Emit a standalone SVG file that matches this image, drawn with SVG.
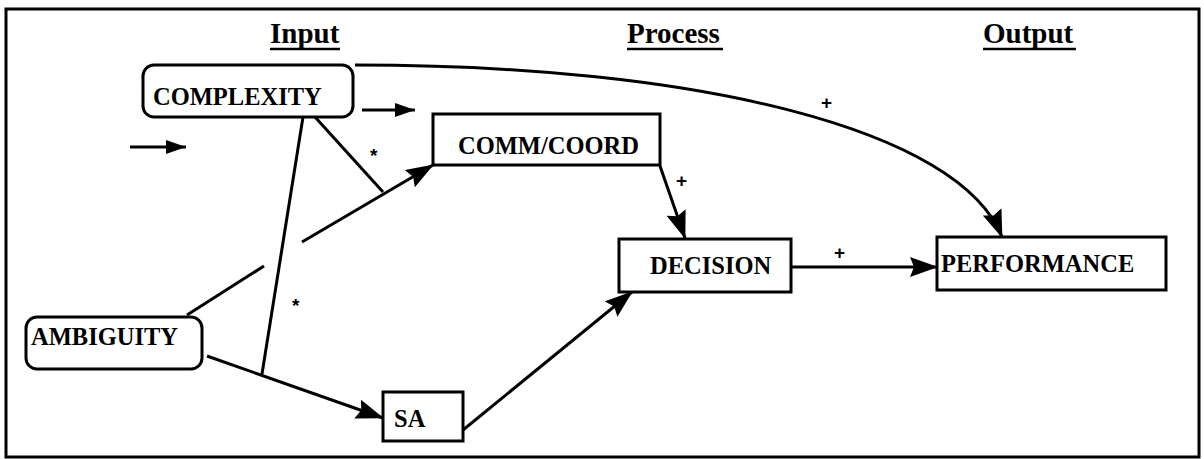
<svg xmlns="http://www.w3.org/2000/svg" width="1204" height="459" viewBox="0 0 1204 459">
<style>
text{font-family:"Liberation Serif","Times New Roman",serif;font-weight:bold;fill:#000}
.title{font-size:29px}
.lbl{font-size:24.5px}
.sym{font-family:"Liberation Sans",Arial,sans-serif;font-size:19px}
.box{fill:#fff;stroke:#000;stroke-width:3}
.ln{fill:none;stroke:#000;stroke-width:3}
.ul{stroke:#000;stroke-width:2.5}
</style>
<defs>
<marker id="ah" markerUnits="userSpaceOnUse" markerWidth="28" markerHeight="20" refX="27" refY="10" orient="auto"><path d="M0,0 L28,10 L0,20 L4,10 z" fill="#000"/></marker>
<marker id="ahs" markerUnits="userSpaceOnUse" markerWidth="20" markerHeight="14" refX="20" refY="7" orient="auto"><path d="M0,0 L20,7 L0,14 z" fill="#000"/></marker>
</defs>
<rect x="6" y="9" width="1193" height="448" fill="#fff" stroke="#000" stroke-width="3"/>
<g id="titles">
<text class="title" x="270" y="43">Input</text>
<line class="ul" x1="270" y1="49" x2="340" y2="49"/>
<text class="title" x="627" y="43">Process</text>
<line class="ul" x1="627" y1="49" x2="723" y2="49"/>
<text class="title" x="983" y="43">Output</text>
<line class="ul" x1="983" y1="49" x2="1076" y2="49"/>
</g>
<g id="connectors">
<path class="ln" d="M355,65 C700,65 960,130 1002,237" marker-end="url(#ah)"/>
<line class="ln" x1="362" y1="110" x2="415" y2="110" marker-end="url(#ahs)"/>
<line class="ln" x1="130" y1="147" x2="186" y2="147" marker-end="url(#ahs)"/>
<line class="ln" x1="303" y1="117" x2="262" y2="374"/>
<line class="ln" x1="315" y1="117" x2="383" y2="192"/>
<line class="ln" x1="187" y1="315" x2="264" y2="266"/>
<line class="ln" x1="302" y1="242" x2="433" y2="165" marker-end="url(#ah)"/>
<line class="ln" x1="207" y1="356" x2="383" y2="418" marker-end="url(#ah)"/>
<line class="ln" x1="463" y1="430" x2="632" y2="292" marker-end="url(#ah)"/>
<line class="ln" x1="660" y1="166" x2="685" y2="238" marker-end="url(#ah)"/>
<line class="ln" x1="791" y1="267" x2="937" y2="267" marker-end="url(#ah)"/>
<text class="sym" x="821" y="109">+</text>
<text class="sym" x="676" y="187">+</text>
<text class="sym" x="834" y="259">+</text>
<text class="sym" x="370" y="162">*</text>
<text class="sym" x="292" y="312">*</text>
</g>
<g id="complexity">
<rect class="box" x="143" y="65" width="210" height="52" rx="11"/>
<text class="lbl" x="153" y="105">COMPLEXITY</text>
</g>
<g id="commcoord">
<rect class="box" x="433" y="114" width="227" height="51"/>
<text class="lbl" x="458" y="154">COMM/COORD</text>
</g>
<g id="ambiguity">
<rect class="box" x="26" y="317" width="176" height="52" rx="11"/>
<text class="lbl" x="31" y="345">AMBIGUITY</text>
</g>
<g id="sa">
<rect class="box" x="383" y="392" width="80" height="49"/>
<text class="lbl" x="394" y="427">SA</text>
</g>
<g id="decision">
<rect class="box" x="619" y="239" width="172" height="53"/>
<text class="lbl" x="650" y="274">DECISION</text>
</g>
<g id="performance">
<rect class="box" x="937" y="237" width="229" height="53"/>
<text class="lbl" x="941" y="272">PERFORMANCE</text>
</g>
</svg>
